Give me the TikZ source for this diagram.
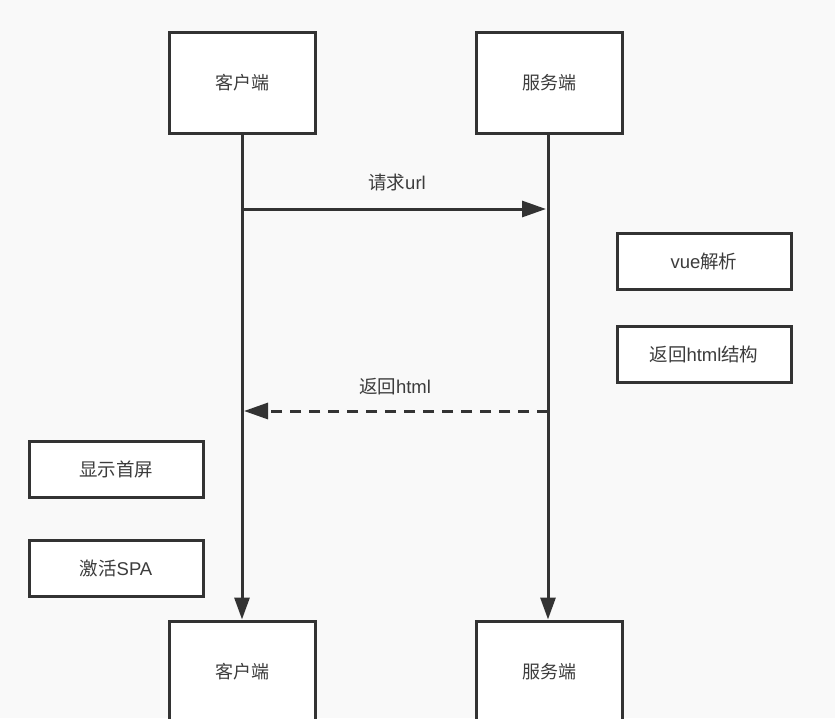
\documentclass[tikz,border=0pt]{standalone}
\usepackage{fontspec}
\setmainfont{Liberation Sans}
\newfontfamily\cjk{Noto Sans CJK SC}
\usetikzlibrary{arrows.meta}
\definecolor{bg}{HTML}{F9F9F9}
\definecolor{ln}{HTML}{333333}
\definecolor{tx}{HTML}{3C3C3C}
\tikzset{
  actor/.style={draw=ln, fill=white, line width=3pt, minimum width=146pt, minimum height=101pt, inner sep=0pt, text=tx, font=\fontsize{18}{20}\selectfont\cjk},
  note/.style={draw=ln, fill=white, line width=3pt, minimum width=174pt, minimum height=56pt, inner sep=0pt, text=tx, font=\fontsize{18.5}{20}\selectfont},
  msg/.style={text=tx, font=\fontsize{18.5}{20}\selectfont},
  life/.style={draw=ln, line width=3pt, -{Triangle[length=22pt,width=15pt]}},
  call/.style={draw=ln, line width=3pt, -{Triangle[length=24pt,width=16pt]}},
  reply/.style={draw=ln, line width=3pt, dash pattern=on 11pt off 8pt, -{Triangle[length=24pt,width=16pt]}}
}
\begin{document}
\begin{tikzpicture}[x=1pt,y=-1pt]
\fill[bg] (0,0) rectangle (835,718);
\useasboundingbox (0,0) rectangle (835,718);
\begin{scope}
\clip (0,0) rectangle (835,718);
\node[actor] (c1) at (242,82.5) {客户端};
\node[actor] (s1) at (549.5,82.5) {服务端};
\node[actor] (c2) at (242,671.5) {客户端};
\node[actor] (s2) at (549.5,671.5) {服务端};
\end{scope}
\node[note] (vue) at (704,261) {vue{\cjk 解析}};
\node[note] (ret) at (704,354) {{\cjk 返回}html{\cjk 结构}};
\node[note] (show) at (116,469) {\cjk 显示首屏};
\node[note] (spa) at (116,568) {{\cjk 激活}SPA};
\coordinate (ca) at (242,209);
\coordinate (sa) at (548,209);
\coordinate (cb) at (242,411);
\coordinate (sb) at (548,411);
\draw[life] (c1.south) -- (c2.north);
\draw[life] (s1.south -| sa) -- (s2.north -| sa);
\draw[call, shorten >=2pt] (ca) -- (sa);
\draw[reply, shorten >=2pt] (sb) -- (cb);
\node[msg] (m1) at (397,182) {{\cjk 请求}url};
\node[msg] (m2) at (395,387) {{\cjk 返回}html};
\end{tikzpicture}
\end{document}
